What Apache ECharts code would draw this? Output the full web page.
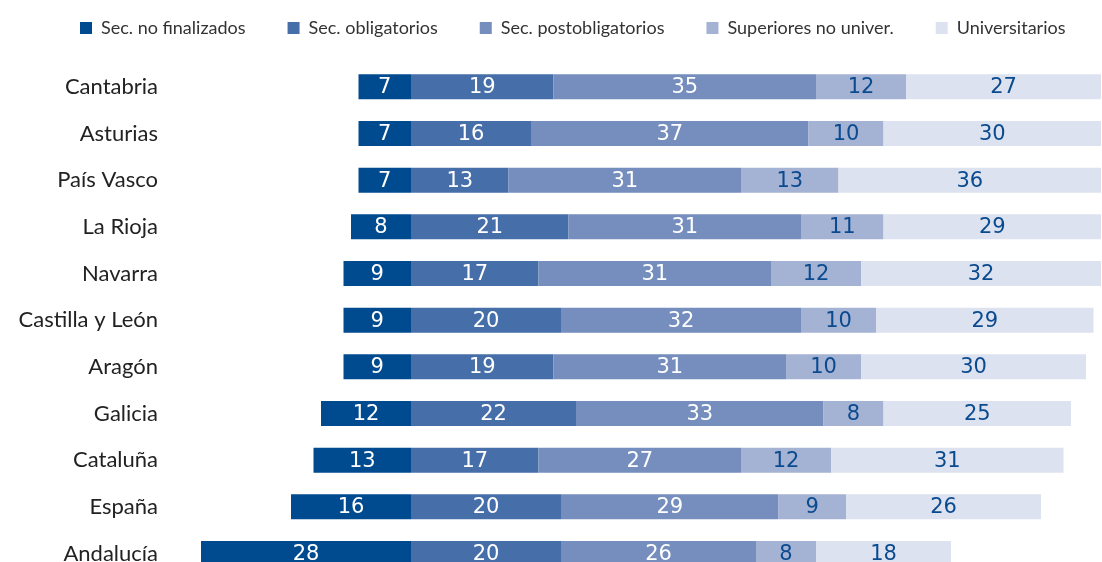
<!DOCTYPE html>
<html>
<head>
<meta charset="utf-8">
<style>
  html, body { margin: 0; padding: 0; background: #ffffff; }
  #chart { width: 1102px; height: 562px; }
</style>
<script src="https://cdn.jsdelivr.net/npm/echarts@6/dist/echarts.min.js"></script>
</head>
<body>
<div id="chart"></div>
<script>
// Nivel de estudios alcanzado por comunidad autónoma (%)
const regions = ['Cantabria', 'Asturias', 'País Vasco', 'La Rioja', 'Navarra', 'Castilla y León',
  'Aragón', 'Galicia', 'Cataluña', 'España', 'Andalucía'];
const seriesNames = ['Sec. no finalizados', 'Sec. obligatorios', 'Sec. postobligatorios',
  'Superiores no univer.', 'Universitarios'];
const secNoFinalizados    = [7, 7, 7, 8, 9, 9, 9, 12, 13, 16, 28];
const secObligatorios     = [19, 16, 13, 21, 17, 20, 19, 22, 17, 20, 20];
const secPostobligatorios = [35, 37, 31, 31, 31, 32, 31, 33, 27, 29, 26];
const superioresNoUniver  = [12, 10, 13, 11, 12, 10, 10, 8, 12, 9, 8];
const universitarios      = [27, 30, 36, 29, 32, 29, 30, 25, 31, 26, 18];

const colors = ['#004b8f', '#466ea8', '#758ebe', '#a4b2d4', '#dce2ef'];
const labelColors = ['#ffffff', '#ffffff', '#ffffff', '#0a4a8f', '#0a4a8f'];
// the first group grows to the left of zero, the rest stack to the right
const valueSets = [secNoFinalizados.map(v => -v), secObligatorios, secPostobligatorios,
  superioresNoUniver, universitarios];

const chart = echarts.init(document.getElementById('chart'), null, { renderer: 'canvas' });

const series = seriesNames.map((name, i) => ({
  name: name,
  type: 'bar',
  stack: 'total',
  barWidth: 25,
  itemStyle: { color: colors[i] },
  label: {
    show: true,
    position: 'inside',
    color: labelColors[i],
    fontFamily: 'DejaVu Sans',
    fontSize: 21,
    offset: [0, 1],
    formatter: p => Math.abs(p.value)
  },
  data: valueSets[i]
}));

chart.setOption({
  animation: false,
  legend: {
    top: 14,
    left: 75,
    itemWidth: 12,
    itemHeight: 12,
    itemGap: 42,
    icon: 'rect',
    textStyle: { fontFamily: 'Lato', fontSize: 18, color: '#333333', padding: [0, 0, 0, 4] },
    data: seriesNames
  },
  grid: { left: 201, top: 63.5, width: 900, height: 513.3, outerBoundsMode: 'none' },
  xAxis: {
    type: 'value',
    min: -28,
    max: 92,
    show: false
  },
  yAxis: {
    type: 'category',
    inverse: true,
    data: regions,
    axisLine: { show: false, onZero: false },
    axisTick: { show: false },
    axisLabel: { margin: 43, fontFamily: 'Lato', fontSize: 22, color: '#222222' }
  },
  series: series
});
</script>
</body>
</html>
